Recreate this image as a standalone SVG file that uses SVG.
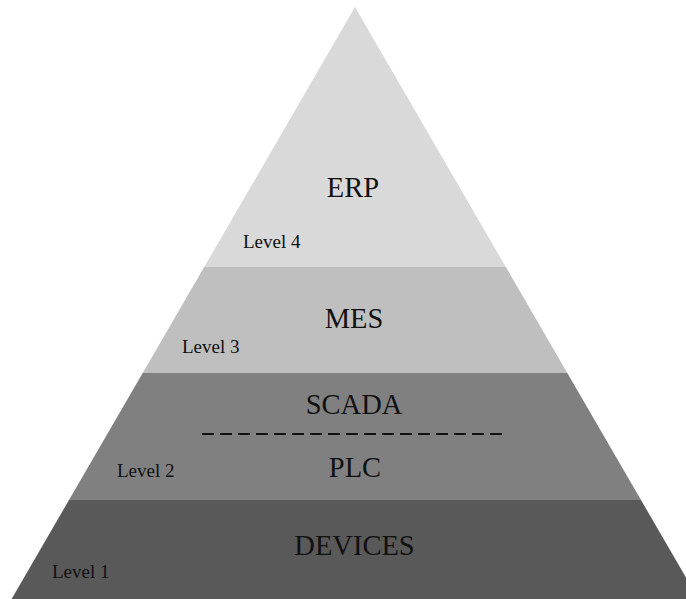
<svg xmlns="http://www.w3.org/2000/svg" width="686" height="599" viewBox="0 0 686 599">
<style>
.title{font-family:"Liberation Serif","Times New Roman",serif;font-size:28.5px;fill:#111;text-anchor:middle}
.lvl{font-family:"Liberation Serif","Times New Roman",serif;font-size:19px;fill:#111}
</style>
<rect width="686" height="599" fill="#ffffff"/>
<g id="level4">
<polygon points="355,7 505.8,267 204.2,267" fill="#d9d9d9"/>
<text class="title" x="353" y="197">ERP</text>
<text class="lvl" x="243" y="248">Level 4</text>
</g>
<g id="level3">
<polygon points="204.2,267 505.8,267 567.3,373 142.7,373" fill="#bfbfbf"/>
<text class="title" x="354" y="328">MES</text>
<text class="lvl" x="182" y="353">Level 3</text>
</g>
<g id="level2">
<polygon points="142.7,373 567.3,373 641,500 69,500" fill="#808080"/>
<text class="title" x="354" y="414">SCADA</text>
<text class="title" x="355" y="477">PLC</text>
<text class="lvl" x="117" y="477">Level 2</text>
</g>
<g id="connectors">
<line x1="202" y1="434" x2="505" y2="434" stroke="#111" stroke-width="2" stroke-dasharray="12,6"/>
</g>
<g id="level1">
<polygon points="69,500 641,500 698.4,599 11.6,599" fill="#595959"/>
<text class="title" x="354.5" y="555">DEVICES</text>
<text class="lvl" x="52" y="578">Level 1</text>
</g>
</svg>
